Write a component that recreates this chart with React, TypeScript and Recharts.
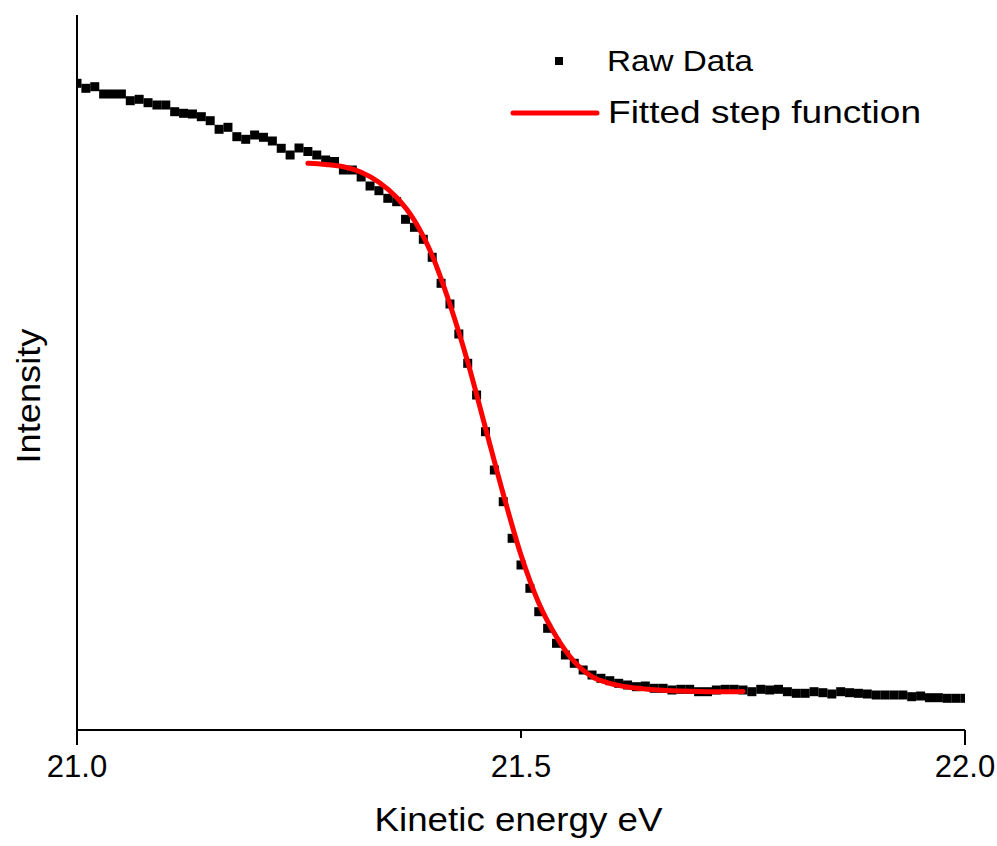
import React from 'react';
import { ComposedChart, XAxis, YAxis, Scatter, Line, Legend, Label } from 'recharts';

// Kinetic energy (eV) of the raw data points
const rawEnergy = [
  21.0, 21.01, 21.02, 21.03, 21.04, 21.05, 21.06, 21.07, 21.08, 21.09,
  21.1, 21.11, 21.12, 21.13, 21.14, 21.15, 21.16, 21.17, 21.18, 21.19,
  21.2, 21.21, 21.22, 21.23, 21.24, 21.25, 21.26, 21.27, 21.28, 21.29,
  21.3, 21.31, 21.32, 21.33, 21.34, 21.35, 21.36, 21.37, 21.38, 21.39,
  21.4, 21.41, 21.42, 21.43, 21.44, 21.45, 21.46, 21.47, 21.48, 21.49,
  21.5, 21.51, 21.52, 21.53, 21.54, 21.55, 21.56, 21.57, 21.58, 21.59,
  21.6, 21.61, 21.62, 21.63, 21.64, 21.65, 21.66, 21.67, 21.68, 21.69,
  21.7, 21.71, 21.72, 21.73, 21.74, 21.75, 21.76, 21.77, 21.78, 21.79,
  21.8, 21.81, 21.82, 21.83, 21.84, 21.85, 21.86, 21.87, 21.88, 21.89,
  21.9, 21.91, 21.92, 21.93, 21.94, 21.95, 21.96, 21.97, 21.98, 21.99,
  22.0,
];

// Intensity (a.u.) of the raw data points
const rawIntensity = [
  646.7, 641.7, 643.3, 636, 636, 636, 629.3, 630.7, 627.3, 625,
  625, 618.3, 616.7, 616, 613.3, 609.3, 600.7, 602.7, 593.3, 590.7,
  595, 592.7, 589, 581.7, 575, 582, 578.5, 575, 570, 568.5,
  560, 560, 553, 544, 539.3, 531.7, 528.3, 510.7, 502.7, 490.7,
  472.7, 446.7, 426, 396, 366.7, 335, 298.3, 260, 228.3, 191.7,
  165, 141.7, 118.3, 101.7, 86.7, 75, 66.7, 60, 55, 51.7,
  49.3, 46.7, 45, 43.3, 44, 41.7, 41.7, 40, 40.7, 40.7,
  38.3, 38.3, 40, 40.7, 40.7, 40, 38.3, 40.7, 40, 40.7,
  38.3, 36.7, 36.7, 38.3, 37.3, 36, 38.3, 37.3, 36.7, 36,
  35, 35, 35, 35, 33.3, 34, 32.3, 32.3, 31.7, 31.7,
  31.7,
];

// Fitted step function
const fitEnergy = [
  21.26, 21.28, 21.3, 21.32, 21.34, 21.36, 21.38, 21.4, 21.42, 21.44,
  21.46, 21.48, 21.5, 21.52, 21.54, 21.56, 21.58, 21.6, 21.62, 21.64,
  21.66, 21.68, 21.7, 21.72, 21.74, 21.75,
];
const fitIntensity = [
  566.7, 565.5, 563.3, 557.8, 547.8, 532.5, 509.5, 474.5, 425.5, 368,
  302, 236, 175, 127, 93, 68.3, 53.3, 46.6, 43, 41,
  39.7, 39, 38.5, 38.3, 38.3, 38.5,
];

const xTicks = [21.0, 21.5, 22.0];
const xTickLabels = ['21.0', '21.5', '22.0'];
const seriesNames = ['Raw Data', 'Fitted step function'];
const xAxisTitle = 'Kinetic energy eV';
const yAxisTitle = 'Intensity';

const rawData = rawEnergy.map((e, k) => ({ e, i: rawIntensity[k] }));
const fitData = fitEnergy.map((e, k) => ({ e, i: fitIntensity[k] }));

const FONT = '"Liberation Sans", Arial, Helvetica, sans-serif';

const SquareDot = (props: any) => {
  const { cx, cy } = props;
  if (cx == null || cy == null) return null;
  return <rect x={cx - 4.5} y={cy - 4.5} width={9} height={9} fill="#000" />;
};

const XTick = (props: any) => {
  const { x, y, payload } = props;
  const idx = xTicks.findIndex((t) => Math.abs(t - payload.value) < 1e-9);
  const isEnd = idx === 0 || idx === xTicks.length - 1;
  return (
    <g>
      <line x1={x} x2={x} y1={y} y2={y + (isEnd ? 15 : 8)} stroke="#000" strokeWidth={2} />
      <text x={x} y={y + 47} textAnchor="middle" fontSize={31} fontFamily={FONT} fill="#000">
        {xTickLabels[idx] ?? String(payload.value)}
      </text>
    </g>
  );
};

const XTitle = (props: any) => {
  const vb = props.viewBox || { x: 77, y: 730, width: 888 };
  const cx = vb.x + vb.width / 2 - 2.5;
  return (
    <text
      x={cx}
      y={vb.y + 101}
      textAnchor="middle"
      fontSize={33}
      fontFamily={FONT}
      fill="#000"
      textLength={288}
      lengthAdjust="spacingAndGlyphs"
    >
      {xAxisTitle}
    </text>
  );
};

const YTitle = () => {
  const cx = 39.5;
  const cy = 396;
  return (
    <text
      x={cx}
      y={cy}
      transform={`rotate(-90, ${cx}, ${cy})`}
      textAnchor="middle"
      fontSize={34}
      fontFamily={FONT}
      fill="#000"
      textLength={135}
      lengthAdjust="spacingAndGlyphs"
    >
      {yAxisTitle}
    </text>
  );
};

const renderLegend = () => (
  <svg width={460} height={110} style={{ display: 'block', overflow: 'visible' }}>
    <rect x={65} y={27} width={8} height={8} fill="#000" />
    <text x={117} y={41} fontSize={29} fontFamily={FONT} fill="#000" textLength={146} lengthAdjust="spacingAndGlyphs">
      {seriesNames[0]}
    </text>
    <line x1={23} x2={107} y1={83} y2={83} stroke="#ff0000" strokeWidth={5} strokeLinecap="round" />
    <text x={118} y={93} fontSize={32} fontFamily={FONT} fill="#000" textLength={313} lengthAdjust="spacingAndGlyphs">
      {seriesNames[1]}
    </text>
  </svg>
);

export default function App() {
  const lineExtra: any = { zIndex: 700 };
  return (
    <div style={{ position: 'absolute', left: 0, top: 0, width: 997, height: 846, background: '#fff' }}>
      <ComposedChart width={997} height={846} margin={{ top: 15, right: 32, bottom: 0, left: 0 }}>
        <XAxis
          dataKey="e"
          type="number"
          domain={[21, 22]}
          ticks={xTicks}
          interval={0}
          allowDataOverflow
          height={116}
          axisLine={{ stroke: '#000', strokeWidth: 2 }}
          tickLine={false}
          tickSize={0}
          tickMargin={0}
          tick={<XTick />}
          label={<Label content={<XTitle />} />}
        />
        <YAxis
          dataKey="i"
          type="number"
          domain={[0, 715]}
          allowDataOverflow
          width={77}
          tick={false}
          tickLine={false}
          axisLine={{ stroke: '#000', strokeWidth: 2 }}
          label={<Label content={<YTitle />} />}
        />
        <Scatter
          name={seriesNames[0]}
          data={rawData}
          dataKey="i"
          fill="#000"
          shape={<SquareDot />}
          isAnimationActive={false}
        />
        <Line
          name={seriesNames[1]}
          data={fitData}
          dataKey="i"
          type="monotone"
          stroke="#ff0000"
          strokeWidth={5}
          strokeLinecap="round"
          dot={false}
          activeDot={false}
          isAnimationActive={false}
          {...lineExtra}
        />
        <Legend
          layout="horizontal"
          verticalAlign="middle"
          align="center"
          wrapperStyle={{ left: 490, top: 30, width: 460, height: 110 }}
          content={renderLegend}
        />
      </ComposedChart>
    </div>
  );
}
